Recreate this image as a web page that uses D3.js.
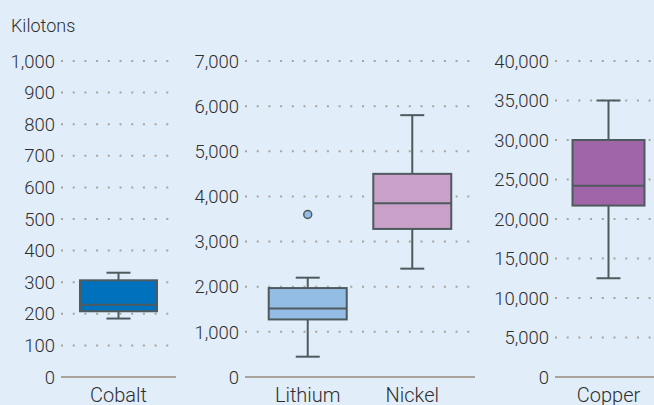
<!DOCTYPE html>
<html>
<head>
<meta charset="utf-8">
<script src="https://cdn.jsdelivr.net/npm/d3@7"></script>
<style>
    body { margin: 0; background: #e1eefa; }
    svg { display: block; font-family: Roboto, sans-serif; font-weight: 300; }
</style>
</head>
<body>
<div class="chart"></div>
<script>
//data
const categories = ["Cobalt", "Lithium", "Nickel", "Copper"];
const panelOf = [0, 1, 1, 2];
const whiskerLow = [185, 450, 2400, 12500];
const q1 = [208, 1275, 3280, 21700];
const median = [229, 1520, 3850, 24200];
const q3 = [306, 1970, 4500, 30000];
const whiskerHigh = [330, 2200, 5800, 35000];
const outliers = [[], [3600], [], []];
const fills = ["#0072bd", "#94bde5", "#c9a0c8", "#a064a8"];
const yMax = [1000, 7000, 40000];
const yStep = [100, 1000, 5000];
const unitLabel = "Kilotons";

//layout
const width = 654, height = 405;
const panelRanges = [[61, 176], [245, 475], [555, 662]];
const boxWidths = [77, 78, 72];
const capWidth = 24;
const y0 = 377, y1 = 61;
const stroke = "#4e5a5e";
const textColor = "#2e2e2e";

const svg = d3.select(".chart").append("svg")
    .attr("width", width)
    .attr("height", height);

svg.append("text")
    .attr("x", 11)
    .attr("y", 32)
    .attr("fill", textColor)
    .style("font-size", "18px")
    .text(unitLabel);

const fmt = d3.format(",");

panelRanges.forEach(function (range, p) {
    const cats = categories.filter((c, i) => panelOf[i] === p);
    const x = d3.scalePoint().domain(cats).range(range).padding(0.6);
    const y = d3.scaleLinear().domain([0, yMax[p]]).range([y0, y1]);
    const ticks = d3.range(0, yMax[p] + 1, yStep[p]);

    const g = svg.append("g");

    //dotted gridlines
    g.selectAll("line.grid")
        .data(ticks.filter(t => t > 0))
        .enter().append("line")
        .attr("class", "grid")
        .attr("x1", range[0])
        .attr("x2", range[1])
        .attr("y1", d => y(d))
        .attr("y2", d => y(d))
        .attr("stroke", "#aaa39b")
        .attr("stroke-width", 2)
        .attr("stroke-dasharray", "2,9.7");

    //baseline
    g.append("line")
        .attr("x1", range[0])
        .attr("x2", range[1])
        .attr("y1", y(0))
        .attr("y2", y(0))
        .attr("stroke", "#aaa39c")
        .attr("stroke-width", 2);

    //tick labels
    g.selectAll("text.tick")
        .data(ticks)
        .enter().append("text")
        .attr("class", "tick")
        .attr("x", range[0] - 6)
        .attr("y", d => y(d))
        .attr("dy", "0.36em")
        .attr("text-anchor", "end")
        .attr("fill", textColor)
        .style("font-size", "18.5px")
        .text(d => fmt(d));

    const bw = boxWidths[p];

    cats.forEach(function (c) {
        const i = categories.indexOf(c);
        const cx = x(c);

        //whiskers
        g.append("line")
            .attr("x1", cx).attr("x2", cx)
            .attr("y1", y(whiskerLow[i])).attr("y2", y(q1[i]))
            .attr("stroke", stroke).attr("stroke-width", 2);
        g.append("line")
            .attr("x1", cx).attr("x2", cx)
            .attr("y1", y(q3[i])).attr("y2", y(whiskerHigh[i]))
            .attr("stroke", stroke).attr("stroke-width", 2);
        [whiskerLow[i], whiskerHigh[i]].forEach(function (v) {
            g.append("line")
                .attr("x1", cx - capWidth / 2).attr("x2", cx + capWidth / 2)
                .attr("y1", y(v)).attr("y2", y(v))
                .attr("stroke", stroke).attr("stroke-width", 2);
        });

        //box
        g.append("rect")
            .attr("x", cx - bw / 2)
            .attr("y", y(q3[i]))
            .attr("width", bw)
            .attr("height", y(q1[i]) - y(q3[i]))
            .attr("fill", fills[i])
            .attr("stroke", stroke)
            .attr("stroke-width", 2);

        //median
        g.append("line")
            .attr("x1", cx - bw / 2).attr("x2", cx + bw / 2)
            .attr("y1", y(median[i])).attr("y2", y(median[i]))
            .attr("stroke", stroke).attr("stroke-width", 2);

        //outliers
        g.selectAll("circle.out" + i)
            .data(outliers[i])
            .enter().append("circle")
            .attr("cx", cx)
            .attr("cy", d => y(d))
            .attr("r", 4)
            .attr("fill", fills[i])
            .attr("stroke", stroke)
            .attr("stroke-width", 1.5);

        //category label
        g.append("text")
            .attr("x", cx)
            .attr("y", 402)
            .attr("text-anchor", "middle")
            .attr("fill", textColor)
            .style("font-size", "20px")
            .text(c);
    });
});
</script>
</body>
</html>
